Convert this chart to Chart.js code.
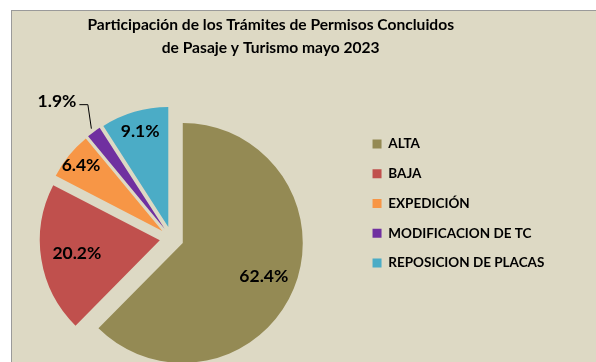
<!DOCTYPE html>
<html lang="es">
<head>
<meta charset="utf-8">
<title>Trámites de Permisos Concluidos - mayo 2023</title>
<script src="https://cdn.jsdelivr.net/npm/chart.js@4.4.0/dist/chart.umd.min.js"></script>
<style>
  html, body {
    margin: 0;
    width: 596px;
    height: 362px;
    overflow: hidden;
    background: #fff;
  }
  .marco {
    position: absolute;
    left: 11px;
    top: 10px;
    width: 600px;
    height: 400px;
    background: #ddd9c4;
    border-top: 1px solid #9a9a9a;
    border-left: 1px solid #9a9a9a;
  }
  #grafico {
    position: absolute;
    left: -13px;
    top: 0;
  }
</style>
</head>
<body>
<div class="marco"></div>
<canvas id="grafico" width="600" height="407"></canvas>

<script>
// Datos del grafico (porcentajes de participacion)
const categorias = ['ALTA', 'BAJA', 'EXPEDICIÓN', 'MODIFICACION DE TC', 'REPOSICION DE PLACAS'];
const porcentajes = [62.4, 20.2, 6.4, 1.9, 9.1];
const colores = ['#948a54', '#c0504d', '#f79646', '#7030a0', '#4bacc6'];
const titulo = ['Participación de los Trámites de Permisos Concluidos', 'de Pasaje y Turismo mayo 2023'];

// separacion de cada rebanada (px)
const EXPLOSION = 12;
// donde va cada etiqueta, fraccion del radio (null = fuera con linea guia)
const posEtiqueta = [0.73, 0.70, 0.87, null, 0.83];

const FUENTE = 'Lato, "Open Sans", sans-serif';

// dibuja las rebanadas desplazadas hacia afuera
const rebanadasSeparadas = {
  id: 'rebanadasSeparadas',
  beforeDatasetDraw(chart, args) {
    const ctx = chart.ctx;
    args.meta.data.forEach((arc) => {
      const mid = (arc.startAngle + arc.endAngle) / 2;
      ctx.save();
      ctx.translate(Math.cos(mid) * EXPLOSION, Math.sin(mid) * EXPLOSION);
      arc.draw(ctx, chart.chartArea);
      ctx.restore();
    });
    return false;
  },
};

// etiquetas de porcentaje
const etiquetas = {
  id: 'etiquetas',
  afterDatasetsDraw(chart) {
    const ctx = chart.ctx;
    const meta = chart.getDatasetMeta(0);
    ctx.save();
    ctx.font = 'bold 17.5px ' + FUENTE;
    ctx.fillStyle = '#000';
    ctx.textBaseline = 'middle';
    meta.data.forEach((arc, i) => {
      const mid = (arc.startAngle + arc.endAngle) / 2;
      const cx = arc.x + Math.cos(mid) * EXPLOSION;
      const cy = arc.y + Math.sin(mid) * EXPLOSION;
      const texto = porcentajes[i].toFixed(1) + '%';
      const f = posEtiqueta[i];
      if (f !== null) {
        const r = arc.outerRadius * f;
        ctx.textAlign = 'center';
        ctx.fillText(texto, cx + Math.cos(mid) * r, cy + Math.sin(mid) * r);
      } else {
        // etiqueta fuera con linea guia
        const r = arc.outerRadius + 4;
        const x0 = cx + Math.cos(mid) * r;
        const y0 = cy + Math.sin(mid) * r;
        const x1 = x0 - 3.5;
        const y1 = y0 - 24;
        const x2 = x1 - 8.5;
        ctx.strokeStyle = '#000';
        ctx.lineWidth = 1;
        ctx.beginPath();
        ctx.moveTo(x0, y0);
        ctx.lineTo(x1, y1);
        ctx.lineTo(x2, y1);
        ctx.stroke();
        ctx.textAlign = 'right';
        ctx.fillText(texto, x2 - 3, y1 - 3);
      }
    });
    ctx.restore();
  },
};

const ctx = document.getElementById('grafico');

new Chart(ctx, {
  type: 'pie',
  data: {
    labels: categorias,
    datasets: [
      {
        data: porcentajes,
        backgroundColor: colores,
        borderWidth: 0,
        offset: 0,
        hoverOffset: 0,
      },
    ],
  },
  options: {
    responsive: false,
    animation: false,
    radius: 120,
    layout: { padding: { right: 32.6 } },
    plugins: {
      title: {
        display: true,
        text: titulo,
        color: '#000',
        font: { family: FUENTE, size: 15.6, weight: 'bold', lineHeight: 1.47 },
        padding: { top: 13.5, bottom: 10.5 },
      },
      legend: {
        position: 'right',
        labels: {
          boxWidth: 9,
          boxHeight: 9,
          padding: 16.2,
          color: '#000',
          font: { family: FUENTE, size: 13.5, weight: 'bold' },
        },
      },
      tooltip: { enabled: false },
    },
  },
  plugins: [rebanadasSeparadas, etiquetas],
});
</script>
</body>
</html>
